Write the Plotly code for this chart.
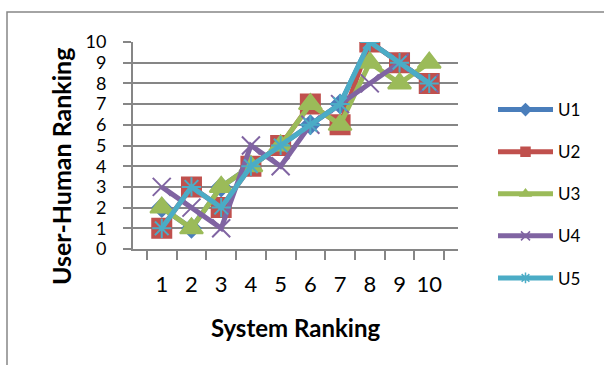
import plotly.graph_objects as go

categories = ["1", "2", "3", "4", "5", "6", "7", "8", "9", "10"]
u1 = [2, 1, 3, 4, 5, 6, 7, 10, 9, 8]
u2 = [1, 3, 2, 4, 5, 7, 6, 10, 9, 8]
u3 = [2, 1, 3, 4, 5, 7, 6, 9, 8, 9]
u4 = [3, 2, 1, 5, 4, 6, 7, 8, 9, 8]
u5 = [1, 3, 2, 4, 5, 6, 7, 10, 9, 8]
y_ticks = list(range(0, 11))

series = [
    ("U1", u1, "#4A7EBB", "diamond", 14),
    ("U2", u2, "#C0504D", "square", 19),
    ("U3", u3, "#9BBB59", "triangle-up", 20),
    ("U4", u4, "#8064A2", "x-thin-open", 18),
    ("U5", u5, "#4BACC6", "asterisk-open", 16),
]

fig = go.Figure()
for name, vals, color, sym, size in series:
    fig.add_trace(go.Scatter(
        x=categories, y=vals, name=name, mode="lines+markers",
        legendgroup=name, showlegend=False,
        line=dict(color=color, width=5),
        marker=dict(symbol=sym, size=size, color=color,
                    line=dict(color=color, width=2)),
    ))
# legend-only entries with small markers, as in the reference legend
for name, vals, color, sym, size in series:
    fig.add_trace(go.Scatter(
        x=[None], y=[None], name=name, mode="lines+markers",
        legendgroup=name, showlegend=True,
        line=dict(color=color, width=5),
        marker=dict(symbol=sym, size=9, color=color,
                    line=dict(color=color, width=1.5)),
    ))

W, H = 604, 365
ml, mr, mt, mb = 133, 146, 42, 116
pw, ph = W - ml - mr, H - mt - mb

def px_x(p):
    return (p - ml) / pw

def px_y(p):
    return (H - mb - p) / ph

fig.update_layout(
    width=W, height=H,
    margin=dict(l=ml, r=mr, t=mt, b=mb),
    paper_bgcolor="white", plot_bgcolor="white",
    font=dict(family="Lato, Carlito, Calibri, sans-serif", color="#000000"),
    showlegend=True,
    legend=dict(
        x=px_x(493), y=px_y(92), xanchor="left", yanchor="top",
        font=dict(size=17), tracegroupgap=17, itemwidth=55, maxheight=1.0,
        bgcolor="rgba(0,0,0,0)",
    ),
    xaxis=dict(
        type="category", tickson="boundaries", ticks="outside", ticklen=9,
        tickcolor="#868686", tickwidth=2, tickangle=0, ticklabelstandoff=15,
        showline=True, linecolor="#868686", linewidth=2,
        showgrid=False, tickfont=dict(size=22),
        title=dict(text="<b>System Ranking</b>", font=dict(size=24), standoff=24),
    ),
    yaxis=dict(
        range=[0, 10], tickvals=y_ticks, ticks="outside", ticklen=8,
        tickcolor="#868686", tickwidth=2, ticklabelstandoff=13,
        showline=True, linecolor="#868686", linewidth=2,
        showgrid=True, gridcolor="#868686", gridwidth=2, zeroline=False,
        tickfont=dict(size=18),
    ),
    annotations=[dict(
        text="<b>User-Human Ranking</b>", xref="paper", yref="paper",
        x=px_x(61), y=px_y(167), xanchor="center", yanchor="middle",
        textangle=-90, showarrow=False, font=dict(size=25),
    )],
    shapes=[dict(
        type="rect", xref="paper", yref="paper",
        x0=px_x(7), x1=px_x(620), y0=px_y(380), y1=px_y(12),
        line=dict(color="#868686", width=1.5), layer="below",
    )],
)

fig.write_html("out.html")
